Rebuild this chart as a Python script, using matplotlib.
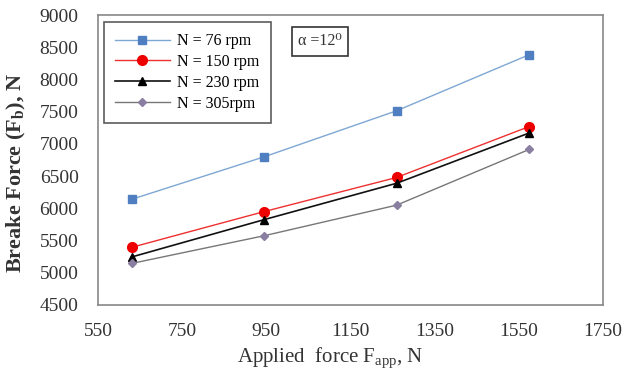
import matplotlib
matplotlib.use("Agg")
import matplotlib.pyplot as plt

plt.rcParams['font.family'] = ['Liberation Serif', 'DejaVu Serif']
plt.rcParams['mathtext.fontset'] = 'custom'
plt.rcParams['mathtext.rm'] = 'Liberation Serif'
plt.rcParams['mathtext.it'] = 'Liberation Serif:italic'
plt.rcParams['mathtext.bf'] = 'Liberation Serif:bold'

applied_force = [630, 945, 1260, 1575]
n76 = [6140, 6800, 7515, 8385]
n150 = [5395, 5950, 6480, 7270]
n230 = [5245, 5825, 6390, 7170]
n305 = [5145, 5575, 6050, 6915]
labels = ["N = 76 rpm", "N = 150 rpm", "N = 230 rpm", "N = 305rpm"]
xticks = [550, 750, 950, 1150, 1350, 1550, 1750]
yticks = [4500, 5000, 5500, 6000, 6500, 7000, 7500, 8000, 8500, 9000]

fig = plt.figure(figsize=(6.26, 3.77), dpi=100)
ax = fig.add_axes([0.1565, 0.191, 0.8065, 0.769])

ax.plot(applied_force, n76, color='#7fa7d4', lw=1.0, marker='s', ms=6,
        mfc='#4f7fc0', mec='#4f7fc0', label=labels[0])
ax.plot(applied_force, n150, color='#ee3030', lw=1.0, marker='o', ms=7,
        mfc='#ee0000', mec='#ee0000', label=labels[1])
ax.plot(applied_force, n230, color='#111111', lw=1.2, marker='^', ms=6,
        mfc='black', mec='black', label=labels[2])
ax.plot(applied_force, n305, color='#777777', lw=1.0, marker='D', ms=4.5,
        mfc='#8a7fa0', mec='#8a7fa0', label=labels[3])

ax.set_xlim(550, 1750)
ax.set_ylim(4500, 9000)
ax.set_xticks(xticks)
ax.set_yticks(yticks)
ax.tick_params(axis='y', length=0, labelsize=14, colors='#333333', pad=14)
ax.tick_params(axis='x', length=0, labelsize=14, colors='#333333', pad=13)
for s in ax.spines.values():
    s.set_color('#888888')
    s.set_linewidth(1.2)

ax.set_xlabel(r"Applied  force F$_{\mathrm{app}}$, N", fontsize=15, color='#333333', labelpad=3)
ax.xaxis.set_label_coords(0.46, -0.14)
ax.set_ylabel(r"Breake Force (F$_{\mathbf{b}}$), N", fontsize=16, fontweight='bold', color='#333333')
ax.yaxis.set_label_coords(-0.139, 0.455)

leg = ax.legend(loc='upper left', bbox_to_anchor=(0.012, 0.976), fontsize=11.5,
                frameon=True, fancybox=False, handlelength=3.4, borderpad=0.7,
                labelspacing=0.3, handletextpad=0.5, borderaxespad=0)
leg.get_frame().set_edgecolor('#333333')
leg.get_frame().set_linewidth(1.2)

ax.text(0.396, 0.909, "α =12⁰", transform=ax.transAxes, fontsize=11.5, color='#333333',
        ha='left', va='center',
        bbox=dict(boxstyle='square,pad=0.4', fc='white', ec='#333333', lw=1.2))

fig.savefig("out.png", dpi=100)
